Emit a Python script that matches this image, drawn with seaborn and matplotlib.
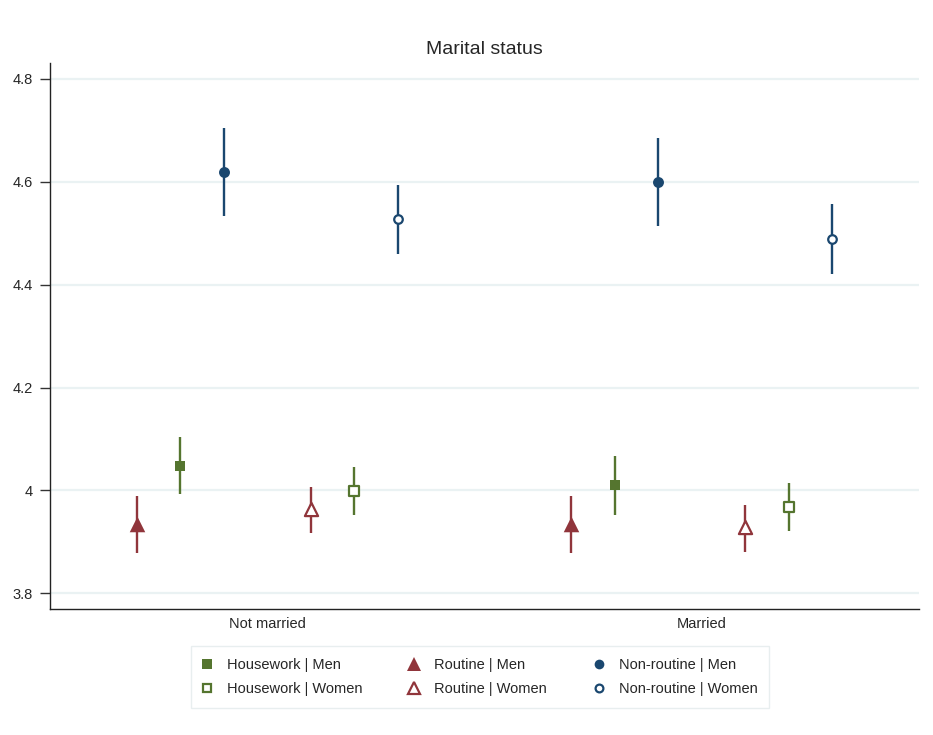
import numpy as np
import pandas as pd
import seaborn as sns
import matplotlib
matplotlib.use("Agg")
import matplotlib.pyplot as plt

# ---- data ----
groups = ["Not married", "Married"]
series = ["Routine | Men", "Housework | Men", "Non-routine | Men",
          "Routine | Women", "Housework | Women", "Non-routine | Women"]
offsets = [-0.3, -0.2, -0.1, 0.1, 0.2, 0.3]

est_routine_men = [3.935, 3.935]
lo_routine_men = [3.878, 3.878]
hi_routine_men = [3.990, 3.990]

est_housework_men = [4.048, 4.010]
lo_housework_men = [3.994, 3.953]
hi_housework_men = [4.103, 4.067]

est_nonroutine_men = [4.620, 4.600]
lo_nonroutine_men = [4.533, 4.514]
hi_nonroutine_men = [4.705, 4.685]

est_routine_women = [3.963, 3.929]
lo_routine_women = [3.917, 3.881]
hi_routine_women = [4.007, 3.971]

est_housework_women = [3.999, 3.968]
lo_housework_women = [3.953, 3.922]
hi_housework_women = [4.045, 4.015]

est_nonroutine_women = [4.527, 4.489]
lo_nonroutine_women = [4.459, 4.421]
hi_nonroutine_women = [4.593, 4.556]

yticks = [3.8, 4.0, 4.2, 4.4, 4.6, 4.8]
ytick_labels = ["3.8", "4", "4.2", "4.4", "4.6", "4.8"]

green = "#55752f"
red = "#90353b"
blue = "#1a476f"

styles = {
    "Routine | Men": dict(color=red, marker="^", filled=True, s=125, ms=10.5),
    "Housework | Men": dict(color=green, marker="s", filled=True, s=55, ms=7.0),
    "Non-routine | Men": dict(color=blue, marker="o", filled=True, s=62, ms=7.0),
    "Routine | Women": dict(color=red, marker="^", filled=False, s=90, ms=9.0),
    "Housework | Women": dict(color=green, marker="s", filled=False, s=42, ms=6.0),
    "Non-routine | Women": dict(color=blue, marker="o", filled=False, s=38, ms=5.6),
}

est = [est_routine_men, est_housework_men, est_nonroutine_men,
       est_routine_women, est_housework_women, est_nonroutine_women]
lo = [lo_routine_men, lo_housework_men, lo_nonroutine_men,
      lo_routine_women, lo_housework_women, lo_nonroutine_women]
hi = [hi_routine_men, hi_housework_men, hi_nonroutine_men,
      hi_routine_women, hi_housework_women, hi_nonroutine_women]

rows = []
for name, off, e, l, h in zip(series, offsets, est, lo, hi):
    for gi, g in enumerate(groups):
        rows.append(dict(series=name, group=g, x=gi + 1 + off,
                         est=e[gi], lo=l[gi], hi=h[gi]))
df = pd.DataFrame(rows)

# ---- plot ----
sns.set_theme(style="white")
plt.rcParams["font.family"] = ["Liberation Sans", "DejaVu Sans"]

fig = plt.figure(figsize=(9.33, 7.35), dpi=100)
ax = fig.add_axes([50 / 933, 1 - 609 / 735, (919 - 50) / 933, (609 - 63) / 735])

for yt in yticks:
    ax.axhline(yt, color="#eaf2f3", lw=1.6, zorder=0)

handles = {}
for name in series:
    st = styles[name]
    d = df[df["series"] == name]
    ax.vlines(d["x"], d["lo"], d["hi"], color=st["color"], lw=1.7, zorder=2)
    fc = st["color"] if st["filled"] else "white"
    sns.scatterplot(data=d, x="x", y="est", ax=ax, marker=st["marker"],
                    s=st["s"], color=st["color"], facecolor=fc,
                    edgecolor=st["color"], linewidth=0 if st["filled"] else 1.6,
                    zorder=3, legend=False)
    handles[name] = plt.Line2D([], [], ls="none", marker=st["marker"],
                               markersize=st["ms"],
                               color=st["color"], markerfacecolor=fc,
                               markeredgecolor=st["color"],
                               markeredgewidth=0 if st["filled"] else 1.6)

ax.set_xlim(0.5, 2.5)
ax.set_ylim(3.7695, 4.831)
ax.set_xticks([1, 2])
ax.set_xticklabels(groups, fontsize=10.5)
ax.set_yticks(yticks)
ax.set_yticklabels(ytick_labels, fontsize=10.5)
ax.tick_params(axis="y", left=True, length=7.2, width=1, color="#333333", pad=5)
ax.tick_params(axis="x", bottom=False, length=0, pad=5.5)
ax.set_xlabel("")
ax.set_ylabel("")
for side in ["top", "right"]:
    ax.spines[side].set_visible(False)
for side in ["left", "bottom"]:
    ax.spines[side].set_color("#222222")
    ax.spines[side].set_linewidth(1.0)
ax.set_title("Marital status", fontsize=14, pad=6.5)

order = ["Housework | Men", "Housework | Women", "Routine | Men",
         "Routine | Women", "Non-routine | Men", "Non-routine | Women"]
leg = fig.legend([handles[k] for k in order], order, loc="upper left",
                 bbox_to_anchor=(191 / 933, 1 - 646 / 735), ncol=3,
                 fontsize=10.5, frameon=True, fancybox=False,
                 handlelength=0.55, handletextpad=1.1, columnspacing=3.29,
                 borderpad=0.8, labelspacing=0.72, borderaxespad=0)
leg.get_frame().set_edgecolor("#e3eaec")
leg.get_frame().set_linewidth(1.0)

fig.savefig("out.png", dpi=100)
